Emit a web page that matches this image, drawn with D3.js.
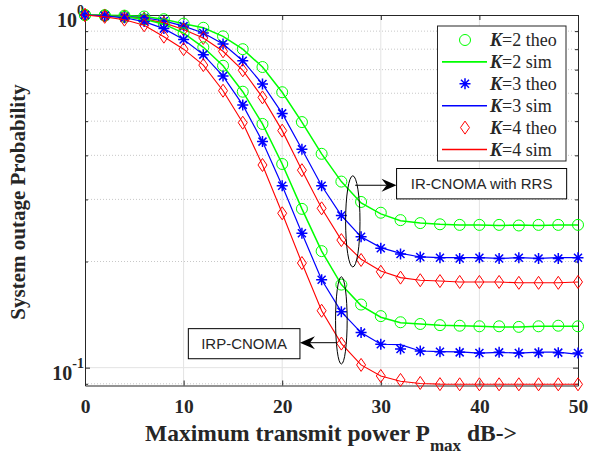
<!DOCTYPE html>
<html>
<head>
<meta charset="utf-8">
<script src="https://cdn.jsdelivr.net/npm/d3@7"></script>
<style>
body { margin: 0; background: #fff; }
text { font-family: "Liberation Serif", "Times New Roman", serif; fill: #262626; }
</style>
</head>
<body>
<div id="chart"></div>
<script>
// transmit power (dB)
var powerDb = [0, 2, 4, 6, 8, 10, 12, 14, 16, 18, 20, 22, 24, 26, 28, 30, 32, 34, 36, 38, 40, 42, 44, 46, 48, 50];

// IR-CNOMA with RRS (upper group)
var k2RrsTheo = [1.0, 0.999, 0.996, 0.99, 0.973, 0.945, 0.92, 0.87, 0.80, 0.712, 0.604, 0.497, 0.404, 0.337, 0.295, 0.275, 0.262, 0.257, 0.255, 0.254, 0.254, 0.254, 0.253, 0.254, 0.254, 0.254];
var k2RrsSim  = [1.0, 0.999, 0.996, 0.99, 0.973, 0.945, 0.92, 0.87, 0.80, 0.712, 0.604, 0.497, 0.404, 0.337, 0.293, 0.273, 0.261, 0.257, 0.255, 0.254, 0.254, 0.253, 0.254, 0.253, 0.254, 0.254];
var k3RrsTheo = [1.0, 0.998, 0.992, 0.982, 0.962, 0.93, 0.889, 0.827, 0.742, 0.637, 0.526, 0.416, 0.328, 0.270, 0.235, 0.218, 0.210, 0.206, 0.205, 0.204, 0.205, 0.204, 0.205, 0.204, 0.204, 0.205];
var k3RrsSim  = [1.0, 0.998, 0.992, 0.982, 0.962, 0.93, 0.889, 0.827, 0.742, 0.637, 0.526, 0.416, 0.328, 0.270, 0.235, 0.219, 0.211, 0.206, 0.205, 0.205, 0.205, 0.204, 0.205, 0.204, 0.205, 0.205];
var k4RrsTheo = [1.0, 0.997, 0.99, 0.975, 0.95, 0.91, 0.861, 0.789, 0.697, 0.584, 0.470, 0.363, 0.283, 0.230, 0.202, 0.187, 0.180, 0.177, 0.176, 0.175, 0.175, 0.175, 0.174, 0.174, 0.174, 0.175];
var k4RrsSim  = [1.0, 0.997, 0.99, 0.975, 0.95, 0.91, 0.861, 0.789, 0.697, 0.584, 0.470, 0.363, 0.283, 0.230, 0.203, 0.188, 0.180, 0.177, 0.176, 0.175, 0.175, 0.175, 0.174, 0.174, 0.174, 0.175];

// IRP-CNOMA (lower group)
var k2IrpTheo = [1.0, 0.996, 0.988, 0.972, 0.942, 0.888, 0.81, 0.718, 0.606, 0.491, 0.378, 0.282, 0.214, 0.172, 0.151, 0.140, 0.1345, 0.133, 0.132, 0.1315, 0.131, 0.131, 0.1305, 0.131, 0.1315, 0.131];
var k2IrpSim  = [1.0, 0.996, 0.988, 0.972, 0.942, 0.888, 0.81, 0.718, 0.606, 0.491, 0.378, 0.282, 0.214, 0.172, 0.150, 0.139, 0.134, 0.133, 0.132, 0.1315, 0.131, 0.1305, 0.1305, 0.131, 0.131, 0.131];
var k3IrpTheo = [1.0, 0.994, 0.982, 0.958, 0.915, 0.852, 0.772, 0.671, 0.556, 0.4375, 0.328, 0.2405, 0.1775, 0.144, 0.1257, 0.1165, 0.113, 0.1115, 0.111, 0.1105, 0.110, 0.1105, 0.110, 0.1103, 0.1103, 0.110];
var k3IrpSim  = [1.0, 0.994, 0.982, 0.958, 0.915, 0.852, 0.772, 0.671, 0.556, 0.4375, 0.328, 0.2405, 0.1775, 0.144, 0.1257, 0.1165, 0.1162, 0.1115, 0.111, 0.1108, 0.110, 0.1105, 0.110, 0.1106, 0.1106, 0.109];
var k4IrpTheo = [1.0, 0.988, 0.97, 0.935, 0.868, 0.80, 0.721, 0.610, 0.495, 0.3755, 0.274, 0.198, 0.145, 0.117, 0.1018, 0.0947, 0.0923, 0.0905, 0.0898, 0.0897, 0.0897, 0.0897, 0.0897, 0.0897, 0.0897, 0.0897];
var k4IrpSim  = [1.0, 0.988, 0.97, 0.935, 0.868, 0.80, 0.721, 0.610, 0.495, 0.3755, 0.274, 0.198, 0.145, 0.117, 0.1018, 0.0947, 0.0915, 0.0902, 0.0898, 0.0897, 0.0897, 0.0897, 0.0897, 0.0897, 0.0897, 0.0897];

var xTicks = [0, 10, 20, 30, 40, 50];
var yMajor = [0.1, 1];
var yMinor = [0.09, 0.2, 0.3, 0.4, 0.5, 0.6, 0.7, 0.8, 0.9];
var legendKs = ["2", "2", "3", "3", "4", "4"];
var legendKinds = ["theo", "sim", "theo", "sim", "theo", "sim"];

var W = 606, H = 457;
var L = 85, R = 578, T = 15, B = 385.5;
var axisColor = "#262626";

var x = d3.scaleLinear().domain([0, 50]).range([L, R]);
var y = d3.scaleLog().domain([0.089, 1]).range([B, T]);

var svg = d3.select("#chart").append("svg")
    .attr("width", W).attr("height", H);

// grid
svg.append("g").selectAll("line").data(xTicks.slice(1, -1)).enter().append("line")
    .attr("x1", d => x(d)).attr("x2", d => x(d)).attr("y1", T).attr("y2", B)
    .attr("stroke", "#e3e3e3").attr("stroke-width", 1);
svg.append("g").selectAll("line").data(yMinor).enter().append("line")
    .attr("x1", L).attr("x2", R).attr("y1", d => y(d)).attr("y2", d => y(d))
    .attr("stroke", "#c8c8c8").attr("stroke-width", 1).attr("stroke-dasharray", "1,2");
svg.append("line")
    .attr("x1", L).attr("x2", R).attr("y1", y(0.1)).attr("y2", y(0.1))
    .attr("stroke", "#e3e3e3").attr("stroke-width", 1);

// axes
function styleAxis(g) {
    g.selectAll("path,line").attr("stroke", axisColor);
    g.selectAll("text").remove();
}
svg.append("g").attr("transform", "translate(0," + B + ")")
    .call(d3.axisBottom(x).tickValues(xTicks).tickSize(-5).tickSizeOuter(0))
    .call(g => g.selectAll("path,line").attr("stroke", axisColor))
    .call(g => g.selectAll("text").attr("font-size", 19.5).attr("font-weight", "bold")
        .attr("fill", axisColor).attr("font-family", "Liberation Serif").attr("y", 14));
svg.append("g").attr("transform", "translate(0," + T + ")")
    .call(d3.axisTop(x).tickValues(xTicks).tickSize(-5).tickSizeOuter(0)).call(styleAxis);
svg.append("g").attr("transform", "translate(" + L + ",0)")
    .call(d3.axisLeft(y).tickValues(yMajor).tickSize(-5).tickSizeOuter(0)).call(styleAxis);
svg.append("g").attr("transform", "translate(" + L + ",0)")
    .call(d3.axisLeft(y).tickValues(yMinor).tickSize(-3).tickSizeOuter(0)).call(styleAxis);
svg.append("g").attr("transform", "translate(" + R + ",0)")
    .call(d3.axisRight(y).tickValues(yMajor).tickSize(-5).tickSizeOuter(0)).call(styleAxis);
svg.append("g").attr("transform", "translate(" + R + ",0)")
    .call(d3.axisRight(y).tickValues(yMinor).tickSize(-3).tickSizeOuter(0)).call(styleAxis);

// y tick labels 10^0, 10^-1
var yLab = svg.append("g").selectAll("text").data(yMajor).enter().append("text")
    .attr("x", L - 1).attr("y", d => y(d) + 12)
    .attr("text-anchor", "end").attr("font-weight", "bold").attr("font-size", 20);
yLab.append("tspan").text("10");
yLab.append("tspan").attr("dy", -12).attr("font-size", 14)
    .text(d => Math.round(Math.log10(d)) === 0 ? "0" : "-1");

// axis titles
svg.append("text")
    .attr("transform", "translate(25,202) rotate(-90)")
    .attr("text-anchor", "middle").attr("font-weight", "bold").attr("font-size", 21)
    .text("System outage Probability");
var xt = svg.append("text").attr("x", 331).attr("y", 441)
    .attr("text-anchor", "middle").attr("font-weight", "bold").attr("font-size", 23.5);
xt.append("tspan").text("Maximum transmit power P");
xt.append("tspan").attr("dy", 10).attr("font-size", 17).text("max");
xt.append("tspan").attr("dy", -10).text(" dB->");

// series
var series = [
    { theo: k2RrsTheo, sim: k2RrsSim, color: "#00ff00", marker: "circle", lw: 1.5 },
    { theo: k3RrsTheo, sim: k3RrsSim, color: "#0000ff", marker: "star", lw: 1.2 },
    { theo: k4RrsTheo, sim: k4RrsSim, color: "#ff0000", marker: "diamond", lw: 1.1 },
    { theo: k2IrpTheo, sim: k2IrpSim, color: "#00ff00", marker: "circle", lw: 1.5 },
    { theo: k3IrpTheo, sim: k3IrpSim, color: "#0000ff", marker: "star", lw: 1.2 },
    { theo: k4IrpTheo, sim: k4IrpSim, color: "#ff0000", marker: "diamond", lw: 1.1 }
];

var circ = d3.path(); circ.arc(0, 0, 5.5, 0, 2 * Math.PI);
var markerPath = {
    circle: circ.toString(),
    star: "M-5.5,0L5.5,0M0,-5.5L0,5.5M-4,-4L4,4M-4,4L4,-4",
    diamond: "M0,-6.5L4.5,0L0,6.5L-4.5,0Z"
};

var line = d3.line().x((d, i) => x(powerDb[i])).y(d => y(d));

series.forEach(function (s) {
    svg.append("path").datum(s.sim)
        .attr("d", line).attr("fill", "none")
        .attr("stroke", s.color).attr("stroke-width", s.lw);
    svg.append("g").selectAll("path").data(s.theo).enter().append("path")
        .attr("transform", (d, i) => "translate(" + x(powerDb[i]) + "," + y(d) + ")")
        .attr("d", markerPath[s.marker]).attr("fill", "none")
        .attr("stroke", s.color).attr("stroke-width", s.marker === "star" ? 1.5 : 1);
});

// annotations (data coordinates)
var ann = [
    { ex: 27.16, ey: [0.193, 0.35], rx: 7.2, ax: [27.4, 31.6], ay: 0.329,
      box: [31.6, 48.85, 0.367, 0.301], label: "IR-CNOMA with RRS" },
    { ex: 26.0, ey: [0.1024, 0.181], rx: 5.8, ax: [25.5, 21.8], ay: 0.1177,
      box: [10.48, 21.8, 0.129, 0.106], label: "IRP-CNOMA" }
];
ann.forEach(function (a) {
    var cy = (y(a.ey[0]) + y(a.ey[1])) / 2, ry = (y(a.ey[0]) - y(a.ey[1])) / 2;
    svg.append("ellipse").attr("cx", x(a.ex)).attr("cy", cy).attr("rx", a.rx).attr("ry", ry)
        .attr("fill", "none").attr("stroke", "#000").attr("stroke-width", 1);
    var x0 = x(a.ax[0]), x1 = x(a.ax[1]), yy = y(a.ay);
    var dir = x1 > x0 ? 1 : -1;
    svg.append("line").attr("x1", x0).attr("x2", x1 - dir * 10).attr("y1", yy).attr("y2", yy)
        .attr("stroke", "#000").attr("stroke-width", 1);
    svg.append("path")
        .attr("transform", "translate(" + x1 + "," + yy + ") scale(" + dir + ",1)")
        .attr("d", "M0,0L-15,-6.5L-10,0L-15,6.5Z").attr("fill", "#000");
    var bx0 = x(a.box[0]), bx1 = x(a.box[1]), by0 = y(a.box[2]), by1 = y(a.box[3]);
    svg.append("rect").attr("x", bx0).attr("y", by0).attr("width", bx1 - bx0).attr("height", by1 - by0)
        .attr("fill", "#fff").attr("stroke", "#000").attr("stroke-width", 1);
    svg.append("text").attr("x", (bx0 + bx1) / 2).attr("y", (by0 + by1) / 2 + 5.5)
        .attr("text-anchor", "middle").attr("font-size", 15).attr("fill", "#000")
        .style("font-family", "'Liberation Sans', Arial, sans-serif")
        .text(a.label);
});

// legend
var lg = svg.append("g");
lg.append("rect").attr("x", 437.5).attr("y", 26).attr("width", 128.5).attr("height", 135)
    .attr("fill", "#fff").attr("stroke", axisColor).attr("stroke-width", 1);
var legendSeries = [series[0], series[0], series[1], series[1], series[2], series[2]];
legendKs.forEach(function (k, i) {
    var ry = 40 + i * 21.9, s = legendSeries[i];
    if (legendKinds[i] === "theo") {
        lg.append("path").attr("transform", "translate(465," + ry + ")")
            .attr("d", markerPath[s.marker]).attr("fill", "none")
            .attr("stroke", s.color).attr("stroke-width", s.marker === "star" ? 1.5 : 1);
    } else {
        lg.append("line").attr("x1", 442).attr("x2", 487).attr("y1", ry).attr("y2", ry)
            .attr("stroke", s.color).attr("stroke-width", 1.6);
    }
    var t = lg.append("text").attr("x", 490).attr("y", ry + 6).attr("font-size", 18).attr("fill", "#000");
    t.append("tspan").attr("font-weight", "bold").attr("font-style", "italic").text("K");
    t.append("tspan").text("=" + k + " " + legendKinds[i]);
});
</script>
</body>
</html>
